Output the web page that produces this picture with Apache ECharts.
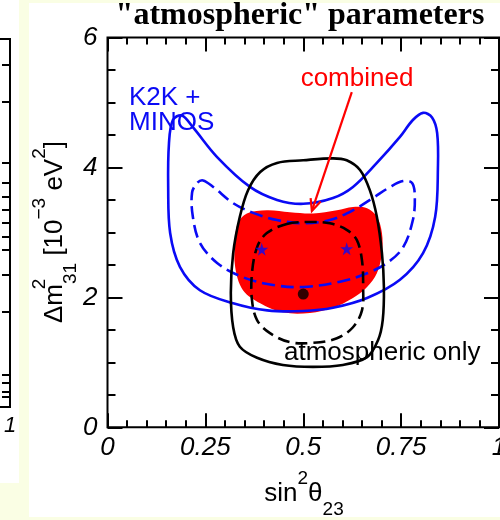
<!DOCTYPE html>
<html><head><meta charset="utf-8">
<script src="https://cdn.jsdelivr.net/npm/echarts@6/dist/echarts.min.js"></script>
<style>html,body{margin:0;padding:0;background:#fafee4;}#c{width:500px;height:520px;}</style>
</head><body><div id="c"></div>
<script>
// ---- data ----
const xTickValues = [0, 0.25, 0.5, 0.75, 1];
const yTickValues = [0, 2, 4, 6];
const leftPanelTicks = [0.929, 0.829, 0.663, 0.609, 0.571, 0.535, 0.5, 0.462, 0.427, 0.359, 0.258, 0.087, 0.065, 0.041, 0.027];
const leftPanelXLabels = [1];

const k2kMinos90 = [[0.155,3.70],[0.160,2.99],[0.185,2.47],[0.236,2.11],[0.321,1.91],[0.408,1.80],[0.500,1.79],[0.576,1.84],[0.663,1.99],[0.747,2.27],[0.806,2.68],[0.837,3.24],[0.844,4.00],[0.842,4.53],[0.829,4.77],[0.806,4.84],[0.780,4.73],[0.747,4.47],[0.688,4.07],[0.627,3.70],[0.576,3.53],[0.500,3.44],[0.433,3.50],[0.364,3.70],[0.280,4.16],[0.218,4.62],[0.190,4.80],[0.167,4.73],[0.157,4.37]];
const k2kMinos68 = [[0.244,3.80],[0.270,3.70],[0.321,3.45],[0.372,3.30],[0.433,3.19],[0.500,3.14],[0.568,3.19],[0.627,3.34],[0.678,3.53],[0.722,3.70],[0.755,3.79],[0.778,3.76],[0.785,3.54],[0.780,3.19],[0.755,2.77],[0.714,2.53],[0.663,2.37],[0.594,2.24],[0.500,2.16],[0.423,2.19],[0.346,2.31],[0.280,2.53],[0.236,2.84],[0.218,3.24],[0.216,3.61],[0.229,3.76]];
const atmo90 = [[0.433,4.07],[0.500,4.11],[0.576,4.14],[0.611,4.11],[0.645,3.96],[0.670,3.65],[0.688,3.24],[0.701,2.68],[0.706,2.16],[0.703,1.65],[0.691,1.34],[0.663,1.08],[0.601,0.96],[0.525,0.93],[0.448,0.96],[0.382,1.07],[0.338,1.24],[0.321,1.54],[0.315,2.07],[0.321,2.68],[0.338,3.24],[0.359,3.65],[0.390,3.93]];
const atmo68 = [[0.458,3.13],[0.517,3.16],[0.568,3.14],[0.611,3.04],[0.637,2.88],[0.650,2.57],[0.653,2.16],[0.650,1.80],[0.627,1.54],[0.586,1.37],[0.525,1.30],[0.466,1.31],[0.415,1.45],[0.382,1.65],[0.369,1.96],[0.369,2.37],[0.382,2.77],[0.407,2.99]];
const combined = [[0.356,3.29],[0.407,3.34],[0.466,3.31],[0.525,3.29],[0.586,3.34],[0.627,3.39],[0.663,3.37],[0.688,3.24],[0.701,2.99],[0.701,2.68],[0.688,2.37],[0.663,2.16],[0.627,1.99],[0.576,1.84],[0.517,1.76],[0.448,1.77],[0.390,1.91],[0.346,2.11],[0.326,2.47],[0.326,2.88],[0.333,3.14]];
const bestFitAtmo = [[0.5, 2.05]];
const bestFitK2K = [[0.394, 2.74], [0.611, 2.75]];
const arrowPts = [[0.624, 5.16], [0.522, 3.33]];

// ---- helpers ----
const SANS = '"Liberation Sans", Arial, Helvetica, sans-serif';
const SERIF = '"Liberation Serif", "Times New Roman", serif';
const BLUE = '#0a0af5', RED = '#ff0000', BLACK = '#000000';

function contour(name, pts, opts) {
  return {
    type: 'custom', name: name, xAxisIndex: 0, yAxisIndex: 0,
    data: pts, z: opts.z || 3, silent: true,
    renderItem: function (params, api) {
      if (params.dataIndex !== 0) return null;
      const p = pts.map(d => api.coord(d));
      const style = opts.fill
        ? { fill: opts.fill, stroke: null }
        : { fill: null, stroke: opts.stroke, lineWidth: opts.lineWidth || 2.5, lineDash: opts.dash || null };
      return { type: 'polygon', shape: { points: p, smooth: 0.35 }, style: style };
    }
  };
}

const starPath = 'path://M50,0 L61,35 L98,35 L68,57 L79,91 L50,70 L21,91 L32,57 L2,35 L39,35 Z';

const chart = echarts.init(document.getElementById('c'), null, { renderer: 'canvas' });
const axisFont = { fontFamily: SANS, fontStyle: 'italic', fontSize: 26, color: '#000' };
const tickLine = { color: '#000', width: 2 };
const richBase = {
  m: { fontFamily: SANS, fontSize: 26, lineHeight: 50, verticalAlign: 'middle', fill: '#000' },
  p: { fontFamily: SANS, fontSize: 19, lineHeight: 26, verticalAlign: 'top', fill: '#000' },
  p0: { fontFamily: SANS, fontSize: 19, lineHeight: 26, verticalAlign: 'top', fill: '#000', width: 0 },
  s: { fontFamily: SANS, fontSize: 19, lineHeight: 24, verticalAlign: 'bottom', fill: '#000' }
};

const option = {
  backgroundColor: '#fafee4',
  animation: false,
  grid: [
    { left: 107.5, right: 1, top: 37.5, bottom: 92.7, show: true, borderColor: '#000', borderWidth: 2, backgroundColor: 'transparent', containLabel: false, outerBoundsMode: 'none' },
    { left: -300, right: 490, top: 39, bottom: 113, show: true, borderColor: '#000', borderWidth: 2, backgroundColor: 'transparent', containLabel: false, outerBoundsMode: 'none' }
  ],
  xAxis: [
    { type: 'value', gridIndex: 0, min: 0, max: 1, interval: 0.25, position: 'bottom',
      axisLine: { show: false, onZero: false }, splitLine: { show: false },
      axisTick: { show: true, inside: true, length: 14, lineStyle: tickLine },
      minorTick: { show: true, splitNumber: 5, length: 7, lineStyle: tickLine },
      axisLabel: Object.assign({ margin: 7, showMaxLabel: true, showMinLabel: true }, axisFont) },
    { type: 'value', gridIndex: 0, min: 0, max: 1, interval: 0.25, position: 'top',
      axisLine: { show: false, onZero: false }, splitLine: { show: false }, axisLabel: { show: false },
      axisTick: { show: true, inside: true, length: 14, lineStyle: tickLine },
      minorTick: { show: true, splitNumber: 5, length: 7, lineStyle: tickLine } },
    { type: 'value', gridIndex: 1, min: 0, max: 1, position: 'bottom',
      axisLine: { show: false, onZero: false }, splitLine: { show: false }, axisTick: { show: false },
      axisLabel: Object.assign({ margin: 8, customValues: leftPanelXLabels, showMaxLabel: true }, axisFont, { fontSize: 22 }) }
  ],
  yAxis: [
    { type: 'value', gridIndex: 0, min: 0, max: 6, interval: 2, position: 'left',
      axisLine: { show: false, onZero: false }, splitLine: { show: false },
      axisTick: { show: true, inside: true, length: 15, lineStyle: tickLine },
      minorTick: { show: true, splitNumber: 4, length: 8, lineStyle: tickLine },
      axisLabel: Object.assign({ margin: 10, showMaxLabel: true, showMinLabel: true }, axisFont) },
    { type: 'value', gridIndex: 0, min: 0, max: 6, interval: 2, position: 'right',
      axisLine: { show: false, onZero: false }, splitLine: { show: false }, axisLabel: { show: false },
      axisTick: { show: true, inside: true, length: 15, lineStyle: tickLine },
      minorTick: { show: true, splitNumber: 4, length: 8, lineStyle: tickLine } },
    { type: 'value', gridIndex: 1, min: 0, max: 1, position: 'right',
      axisLine: { show: false, onZero: false }, splitLine: { show: false }, axisLabel: { show: false },
      axisTick: { show: true, inside: true, length: 8, customValues: leftPanelTicks, lineStyle: tickLine } }
  ],
  series: [
    contour('combined', combined, { fill: RED, z: 2 }),
    contour('K2K+MINOS 90%', k2kMinos90, { stroke: BLUE, lineWidth: 2.6 }),
    contour('K2K+MINOS 68%', k2kMinos68, { stroke: BLUE, lineWidth: 2.6, dash: [13, 6] }),
    contour('atm 90%', atmo90, { stroke: BLACK, lineWidth: 2.6 }),
    contour('atm 68%', atmo68, { stroke: BLACK, lineWidth: 2.6, dash: [12, 6] }),
    { type: 'scatter', xAxisIndex: 0, yAxisIndex: 0, data: bestFitAtmo, symbol: 'circle', symbolSize: 11,
      itemStyle: { color: '#000' }, z: 5, silent: true },
    { type: 'scatter', xAxisIndex: 0, yAxisIndex: 0, data: bestFitK2K, symbol: starPath, symbolSize: 13,
      itemStyle: { color: BLUE }, z: 5, silent: true },
    { type: 'custom', xAxisIndex: 0, yAxisIndex: 0, data: arrowPts, z: 6, silent: true,
      renderItem: function (params, api) {
        if (params.dataIndex !== 0) return null;
        const a = api.coord(arrowPts[0]), b = api.coord(arrowPts[1]);
        const ang = Math.atan2(b[1] - a[1], b[0] - a[0]);
        const L = 13, w = 0.42;
        const h1 = [b[0] - L * Math.cos(ang - w), b[1] - L * Math.sin(ang - w)];
        const h2 = [b[0] - L * Math.cos(ang + w), b[1] - L * Math.sin(ang + w)];
        return { type: 'group', children: [
          { type: 'line', shape: { x1: a[0], y1: a[1], x2: b[0], y2: b[1] }, style: { stroke: RED, lineWidth: 2.2 } },
          { type: 'polyline', shape: { points: [h1, b, h2] }, style: { stroke: RED, lineWidth: 2.2, fill: null } }
        ] };
      } }
  ],
  graphic: [
    { type: 'rect', z: -100, silent: true, shape: { x: 0, y: 0, width: 19, height: 483 }, style: { fill: '#ffffff' } },
    { type: 'rect', z: -100, silent: true, shape: { x: 29, y: 3, width: 471, height: 514 }, style: { fill: '#ffffff' } },
    { type: 'text', z: 50, silent: true, style: { text: '"atmospheric" parameters', x: 300, y: 16, font: 'bold 32px ' + SERIF, fill: '#000', textAlign: 'center', textVerticalAlign: 'middle', align: 'center', verticalAlign: 'middle' } },
    { type: 'text', z: 50, silent: true, style: { text: 'combined', x: 357, y: 79, font: '26px ' + SANS, fill: RED, textAlign: 'center', textVerticalAlign: 'middle', align: 'center', verticalAlign: 'middle' } },
    { type: 'text', z: 50, silent: true, style: { text: 'K2K +', x: 129, y: 97.5, font: '26px ' + SANS, fill: BLUE, textAlign: 'left', textVerticalAlign: 'middle', align: 'left', verticalAlign: 'middle' } },
    { type: 'text', z: 50, silent: true, style: { text: 'MINOS', x: 129, y: 122.5, font: '26px ' + SANS, fill: BLUE, textAlign: 'left', textVerticalAlign: 'middle', align: 'left', verticalAlign: 'middle' } },
    { type: 'text', z: 50, silent: true, style: { text: 'atmospheric only', x: 284, y: 352.5, font: '26px ' + SANS, fill: '#000', textAlign: 'left', textVerticalAlign: 'middle', align: 'left', verticalAlign: 'middle' } },
    { type: 'text', z: 50, silent: true, style: {
        text: '{m|sin}{p|2}{m|θ}{s|23}', x: 304, y: 494, textAlign: 'center', textVerticalAlign: 'middle', align: 'center', verticalAlign: 'middle', fill: '#000',
        rich: richBase } },
    { type: 'text', z: 50, silent: true, x: 55, y: 232, rotation: Math.PI / 2, style: {
        text: '{m|Δm}{p0|2}{s|31}{m| [10}{p|−3}{m| eV}{p|2}{m|]}', x: 0, y: 0, textAlign: 'center', textVerticalAlign: 'middle', align: 'center', verticalAlign: 'middle', fill: '#000',
        rich: richBase } }
  ]
};
chart.setOption(option);
</script>
</body></html>
